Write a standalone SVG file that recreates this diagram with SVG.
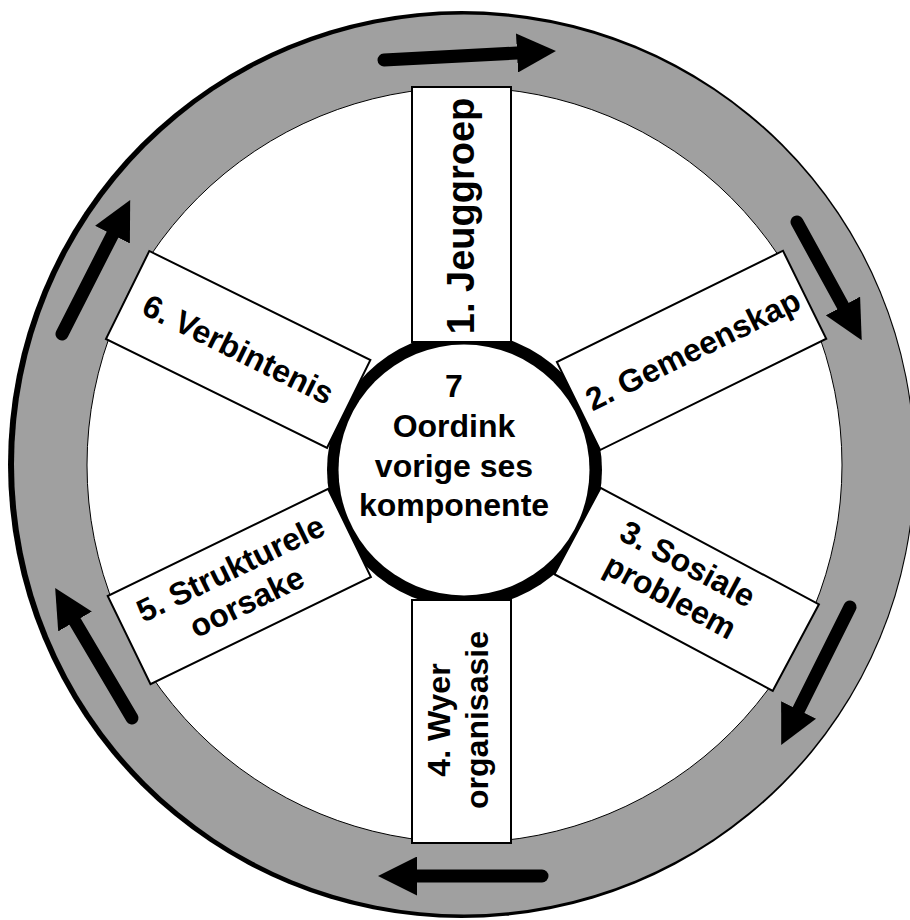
<svg xmlns="http://www.w3.org/2000/svg" width="910" height="920" viewBox="0 0 910 920">
  <defs>
    <style>
      .box { fill: #ffffff; stroke: #000000; stroke-width: 2; }
      .lbl { font-family: "Liberation Sans", Arial, sans-serif; font-weight: bold; font-size: 32px; fill: #000000; text-anchor: middle; }
      .big { font-size: 38px; }
      .shaft { fill: none; stroke: #000000; stroke-width: 13; stroke-linecap: round; }
    </style>
    <marker id="head" viewBox="0 0 39 39" markerWidth="39" markerHeight="39" markerUnits="userSpaceOnUse" refX="0" refY="19.5" orient="auto">
      <path d="M0,0 L39,19.5 L0,39 Z" fill="#000000"/>
    </marker>
  </defs>
  <rect x="0" y="0" width="910" height="920" fill="#ffffff"/>

  <g id="wheel">
    <circle cx="461.5" cy="464.5" r="453.5" fill="#000000"/>
    <circle cx="464" cy="464.5" r="450" fill="#a0a0a0"/>
    <circle cx="464.5" cy="465" r="377.5" fill="#ffffff" stroke="#000000" stroke-width="1"/>
  </g>

  <g id="connectors">
    <line class="shaft" x1="384" y1="60" x2="517" y2="53" marker-end="url(#head)"/>
    <line class="shaft" x1="797" y1="222" x2="843" y2="306" marker-end="url(#head)"/>
    <line class="shaft" x1="850" y1="607" x2="798.6" y2="710" marker-end="url(#head)"/>
    <line class="shaft" x1="542" y1="876" x2="417" y2="876" marker-end="url(#head)"/>
    <line class="shaft" x1="132" y1="718" x2="75" y2="621.5" marker-end="url(#head)"/>
    <line class="shaft" x1="62" y1="334" x2="112.5" y2="234.7" marker-end="url(#head)"/>
  </g>

  <g id="hub-back">
    <circle cx="464.5" cy="470" r="137.5" fill="#000000"/>
  </g>

  <g id="node1">
    <rect class="box" x="412" y="87" width="99" height="255"/>
    <text class="lbl big" transform="translate(461.5,216) rotate(-90)" x="0" y="12">1. Jeuggroep</text>
  </g>

  <g id="node2" transform="translate(578.5,406) rotate(-26.2)">
    <rect class="box" x="0" y="-49" width="252" height="98"/>
    <text class="lbl" x="127.5" y="11">2. Gemeenskap</text>
  </g>

  <g id="node3" transform="translate(577.5,531) rotate(28.1)">
    <rect class="box" x="0" y="-49" width="247.5" height="98"/>
    <text class="lbl" x="112.75" y="-12">3. Sosiale</text>
    <text class="lbl" x="112.75" y="25">probleem</text>
  </g>

  <g id="node4">
    <rect class="box" x="412" y="600" width="99" height="243"/>
    <g transform="translate(461.5,721.5) rotate(-90)">
      <text class="lbl" x="1.5" y="-12">4. Wyer</text>
      <text class="lbl" x="1.5" y="26">organisasie</text>
    </g>
  </g>

  <g id="node5" transform="translate(349.5,533) rotate(154.1)">
    <rect class="box" x="0" y="-49" width="245" height="98"/>
    <g transform="translate(122.5,0) rotate(180)">
      <text class="lbl" x="0" y="-9">5. Strukturele</text>
      <text class="lbl" x="0" y="28">oorsake</text>
    </g>
  </g>

  <g id="node6" transform="translate(348.7,404) rotate(206.25)">
    <rect class="box" x="0" y="-49" width="246.5" height="98"/>
    <g transform="translate(123.25,0) rotate(180)">
      <text class="lbl" x="0" y="11">6. Verbintenis</text>
    </g>
  </g>

  <g id="node7">
    <circle cx="464" cy="470" r="125.5" fill="#ffffff"/>
    <text class="lbl" x="454" y="397">7</text>
    <text class="lbl" x="454" y="437">Oordink</text>
    <text class="lbl" x="454" y="477">vorige ses</text>
    <text class="lbl" x="454" y="516">komponente</text>
  </g>
</svg>
